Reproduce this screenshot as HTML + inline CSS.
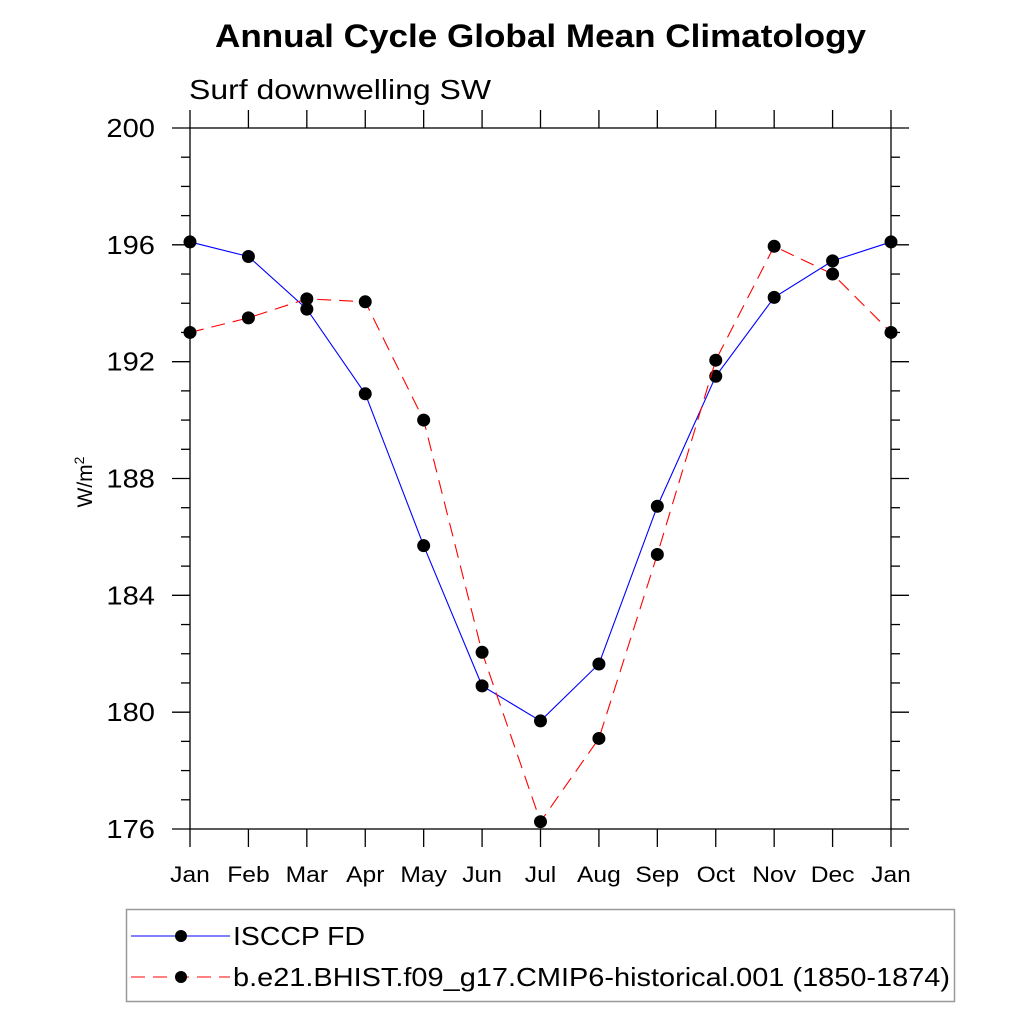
<!DOCTYPE html>
<html><head><meta charset="utf-8"><style>
html,body{margin:0;padding:0;background:#fff;}
svg{display:block;font-family:"Liberation Sans",sans-serif;}
</style></head><body>
<svg id="chart" width="1024" height="1024" viewBox="0 0 1024 1024">
<text x="215" y="47" font-size="32" font-weight="bold" textLength="651" lengthAdjust="spacingAndGlyphs">Annual Cycle Global Mean Climatology</text>
<text x="189" y="99" font-size="28" textLength="302" lengthAdjust="spacingAndGlyphs">Surf downwelling SW</text>
<text transform="translate(92,482) rotate(-90)" text-anchor="middle" font-size="21">W/m<tspan dy="-8" font-size="14">2</tspan></text>
<g id="axes"></g>
<g id="series"></g>
<g>
<rect x="126.5" y="909.5" width="828" height="92" fill="none" stroke="#999" stroke-width="1.5"/>
<g>
<line x1="131" y1="936" x2="230" y2="936" stroke="#0000ff" stroke-width="1"/>
<circle cx="181" cy="936" r="6" fill="#000"/>
<text x="233" y="945" font-size="26" textLength="132" lengthAdjust="spacingAndGlyphs">ISCCP FD</text>
</g>
<g>
<line x1="131" y1="977" x2="230" y2="977" stroke="#ff0000" stroke-width="1" stroke-dasharray="14,8"/>
<circle cx="181" cy="977" r="6" fill="#000"/>
<text x="233" y="986" font-size="26" textLength="717" lengthAdjust="spacingAndGlyphs">b.e21.BHIST.f09_g17.CMIP6-historical.001 (1850-1874)</text>
</g>
</g>
</svg>
<script>
const months = ["Jan","Feb","Mar","Apr","May","Jun","Jul","Aug","Sep","Oct","Nov","Dec","Jan"];
const isccpValues = [196.1,195.6,193.8,190.9,185.7,180.9,179.7,181.65,187.05,191.5,194.2,195.45,196.1];
const modelValues = [193.0,193.5,194.15,194.05,190.0,182.05,176.25,179.1,185.4,192.05,195.95,195.0,193.0];
const yTicks = [176,180,184,188,192,196,200];

const NS="http://www.w3.org/2000/svg";
const L=190,R=891,T=128,B=829,yMin=176,yMax=200;
const xs=i=>L+(R-L)*i/(months.length-1);
const ys=v=>B-(B-T)*(v-yMin)/(yMax-yMin);
function mk(tag,attrs,parent){const e=document.createElementNS(NS,tag);for(const k in attrs)e.setAttribute(k,attrs[k]);parent.appendChild(e);return e;}
const axes=document.getElementById('axes');
const frame=mk('rect',{x:L,y:T,width:R-L,height:B-T,fill:'none',stroke:'#000','stroke-width':1.3},axes);


months.forEach((m,i)=>{
  const x=xs(i);
  mk('line',{x1:x,y1:T,x2:x,y2:T-18,stroke:'#000','stroke-width':1.3},axes);
  mk('line',{x1:x,y1:B,x2:x,y2:B+18,stroke:'#000','stroke-width':1.3},axes);
  const t=mk('text',{x:0,y:0,'text-anchor':'middle','font-size':22,transform:'translate('+x+',882) scale(1.12,1)'},axes);
  t.textContent=m;
  
  
});
for(let v=yMin;v<=yMax;v++){
  const y=ys(v);const major=yTicks.includes(v);const len=major?18:9;
  mk('line',{x1:L,y1:y,x2:L-len,y2:y,stroke:'#000','stroke-width':1.3},axes);
  mk('line',{x1:R,y1:y,x2:R+len,y2:y,stroke:'#000','stroke-width':1.3},axes);
}
yTicks.forEach(v=>{
  const t=mk('text',{x:0,y:0,'text-anchor':'end','font-size':26,transform:'translate(155,'+(ys(v)+9)+') scale(1.12,1)'},axes);
  t.textContent=v;
  
  
});
const ser=document.getElementById('series');
function draw(vals,color,dash,name){
  const g=mk('g',{},ser);
  
  
  const p=mk('polyline',{points:vals.map((v,i)=>xs(i)+','+ys(v)).join(' '),fill:'none',stroke:color,'stroke-width':1.1},g);
  if(dash)p.setAttribute('stroke-dasharray',dash);
  vals.forEach((v,i)=>{
    const c=mk('circle',{cx:xs(i),cy:ys(v),r:6.5,fill:'#000'},g);
    
    
  });
}
draw(isccpValues,'#0000ff',null,'series-isccp');
draw(modelValues,'#ff0000','14,8','series-model');
</script>
</body></html>
